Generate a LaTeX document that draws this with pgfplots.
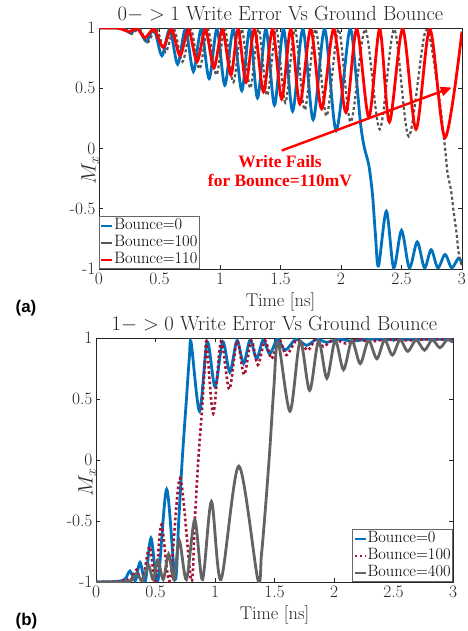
\documentclass[border=0pt]{standalone}
\usepackage{fontspec}
\usepackage{pgfplots}
\pgfplotsset{compat=1.18}
\usetikzlibrary{arrows.meta}
\newfontfamily\annfont{Liberation Serif}
\newfontfamily\labfont{Liberation Sans}
\definecolor{mblue}{RGB}{0,114,189}
\definecolor{mgray}{RGB}{85,85,85}
\definecolor{bgray}{RGB}{99,99,99}
\definecolor{mdred}{RGB}{162,20,47}
\definecolor{axc}{RGB}{38,38,38}
\pgfplotsset{
 myax/.style={
  scale only axis, xmin=0, xmax=3, ymin=-1, ymax=1,
  xtick={0,0.5,1,1.5,2,2.5,3}, xticklabels={0,0.5,1,1.5,2,2.5,3},
  ytick={-1,-0.5,0,0.5,1}, yticklabels={-1,-0.5,0,0.5,1},
  axis line style={axc, line width=0.6bp},
  tick style={axc, line width=0.6bp},
  major tick length=4bp, tick align=inside,
  tick label style={font=\fontsize{17.5}{19}\selectfont, text=axc},
  title style={at={(axis description cs:0.5,1)}, anchor=base, yshift=2bp, font=\fontsize{20.5}{22}\selectfont, text=axc, inner sep=0pt},
  xlabel style={at={(axis description cs:0.5,0)}, anchor=north, yshift=-23bp, font=\fontsize{18.5}{20}\selectfont, text=axc, inner sep=0pt},
  ylabel style={at={(axis description cs:0,0.5)}, anchor=south, xshift=-22bp, font=\fontsize{20}{22}\selectfont, text=axc, inner sep=0pt},
  xlabel={Time [ns]}, ylabel={$M_x$},
  legend cell align=left,
  legend image code/.code={\draw[#1, line width=2bp] (0bp,0bp) -- (11bp,0bp);},
  legend style={font=\fontsize{16.5}{18}\selectfont, draw=black!60, line width=0.8bp, inner xsep=1bp, inner ysep=0.5bp, row sep=0bp, nodes={inner sep=1bp, text height=11.5bp, text depth=3.5bp}},
 }
}
\begin{document}
\begin{tikzpicture}
\useasboundingbox (0,0) rectangle (468bp,-631bp);
\begin{axis}[myax, at={(99bp,-269bp)}, anchor=south west, width=363bp, height=241bp,
  title={$0->1$ Write Error Vs Ground Bounce},
  legend style={at={(axis description cs:0,0)}, anchor=south west}]
\addplot[mblue, line width=2.8bp, smooth] table {
x y
0 1
0.12 1
0.20 0.995
0.26 0.96
0.325 0.995
0.39 0.89
0.455 0.99
0.52 0.77
0.585 0.99
0.65 0.70
0.715 0.99
0.78 0.64
0.845 0.99
0.91 0.58
0.975 0.99
1.04 0.525
1.11 0.99
1.18 0.48
1.245 0.99
1.31 0.42
1.38 0.99
1.45 0.36
1.525 0.99
1.60 0.31
1.685 0.99
1.77 0.24
1.865 0.99
1.96 0.15
2.07 0.98
2.12 0.65
2.16 0.22
2.19 0.02
2.23 -0.14
2.26 -0.38
2.285 -0.72
2.31 -0.975
2.375 -0.52
2.435 -0.99
2.50 -0.68
2.565 -0.99
2.63 -0.775
2.69 -0.99
2.745 -0.84
2.80 -0.99
2.86 -0.88
2.915 -0.99
2.97 -0.91
3.0 -0.95
};
\addlegendentry{Bounce=0}
\addplot[mgray, line width=2.2bp, dash pattern=on 3bp off 2.5bp, smooth, legend image post style={solid}] table {
x y
0 1
0.13 1
0.21 0.995
0.27 0.95
0.335 0.995
0.40 0.88
0.475 0.99
0.55 0.80
0.62 0.99
0.69 0.72
0.76 0.99
0.83 0.66
0.90 0.99
0.97 0.61
1.04 0.99
1.11 0.55
1.18 0.99
1.25 0.50
1.32 0.99
1.39 0.44
1.465 0.99
1.54 0.38
1.62 0.99
1.70 0.32
1.79 0.99
1.88 0.27
1.98 0.99
2.08 0.22
2.20 0.99
2.32 0.16
2.44 0.99
2.56 0.10
2.70 0.98
2.80 0.50
2.86 0.0
2.88 -0.2
2.91 -0.35
2.93 -0.52
2.955 -0.70
2.97 -0.85
2.99 -0.95
3.0 -0.96
};
\addlegendentry{Bounce=100}
\addplot[red, line width=2.8bp, smooth] table {
x y
0 1
0.14 1
0.19 0.99
0.25 0.97
0.315 0.995
0.38 0.92
0.455 0.99
0.53 0.84
0.60 0.99
0.67 0.77
0.74 0.99
0.81 0.72
0.88 0.99
0.95 0.67
1.02 0.99
1.09 0.61
1.15 0.99
1.215 0.55
1.285 0.99
1.36 0.47
1.435 0.99
1.51 0.41
1.585 0.99
1.66 0.37
1.75 0.99
1.84 0.33
1.94 0.99
2.04 0.30
2.13 0.99
2.23 0.26
2.32 0.99
2.40 0.22
2.51 0.99
2.62 0.16
2.735 0.99
2.86 0.09
3.0 0.97
};
\addlegendentry{Bounce=110}
\draw[red, line width=2.4bp, -{Triangle[length=11bp,width=9bp]}] (axis cs:1.51,-0.017) -- (axis cs:2.915,0.506);
\node[text=red, font={\annfont\bfseries\fontsize{17.5}{19.5}\selectfont}, align=center] at (axis cs:1.496,-0.188) {Write Fails\\for Bounce=110mV};
\end{axis}
\begin{axis}[myax, at={(96bp,-582bp)}, anchor=south west, width=357bp, height=244bp,
  title={$1->0$ Write Error Vs Ground Bounce},
  legend style={at={(axis description cs:1,0)}, anchor=south east}]
\addplot[mblue, line width=2.8bp, smooth] table {
x y
0 -1
0.18 -0.995
0.245 -0.975
0.286 -0.91
0.33 -0.99
0.37 -0.84
0.415 -0.99
0.462 -0.64
0.52 -0.99
0.594 -0.24
0.665 -0.98
0.695 -0.50
0.725 0.01
0.76 0.50
0.785 0.85
0.80 0.96
0.87 0.40
0.935 0.97
1.00 0.60
1.065 0.97
1.125 0.72
1.185 0.98
1.24 0.79
1.295 0.985
1.35 0.83
1.405 0.985
1.46 0.87
1.525 0.99
1.59 0.90
1.68 0.99
1.77 0.94
1.855 0.99
1.94 0.965
2.04 0.99
2.15 0.975
2.3 0.99
2.5 0.985
2.7 0.99
3.0 0.99
};
\addlegendentry{Bounce=0}
\addplot[mdred, line width=2.6bp, dash pattern=on 2.6bp off 2.6bp, smooth] table {
x y
0 -1
0.2 -0.995
0.255 -0.975
0.29 -0.99
0.34 -0.90
0.39 -0.99
0.45 -0.71
0.50 -0.99
0.55 -0.53
0.62 -0.99
0.706 -0.15
0.80 -0.99
0.83 -0.50
0.86 0.01
0.89 0.40
0.915 0.79
0.93 0.96
0.985 0.38
1.05 0.97
1.12 0.58
1.185 0.975
1.245 0.70
1.305 0.98
1.36 0.78
1.42 0.98
1.475 0.83
1.54 0.985
1.60 0.86
1.69 0.985
1.78 0.90
1.845 0.99
1.91 0.93
2.0 0.99
2.10 0.955
2.2 0.99
2.3 0.97
2.45 0.99
2.6 0.98
2.8 0.99
3.0 0.985
};
\addlegendentry{Bounce=100}
\addplot[bgray, line width=2.8bp, smooth] table {
x y
0 -1
0.28 -0.995
0.34 -0.93
0.39 -0.99
0.44 -0.86
0.48 -0.98
0.52 -0.82
0.565 -0.98
0.61 -0.77
0.655 -0.98
0.70 -0.66
0.76 -0.98
0.83 -0.49
0.895 -0.98
0.97 -0.34
1.05 -0.98
1.20 -0.05
1.36 -0.98
1.39 -0.78
1.425 -0.38
1.46 0.08
1.495 0.60
1.53 0.97
1.63 0.40
1.715 0.975
1.795 0.57
1.87 0.975
1.94 0.67
2.01 0.98
2.08 0.74
2.15 0.98
2.22 0.79
2.29 0.98
2.36 0.83
2.425 0.985
2.49 0.86
2.555 0.985
2.62 0.89
2.69 0.985
2.76 0.90
2.825 0.985
2.89 0.92
2.95 0.985
3.0 0.965
};
\addlegendentry{Bounce=400}
\end{axis}
\node[font={\labfont\bfseries\fontsize{17}{19}\selectfont}, text=black] at (26bp,-308bp) {(a)};
\node[font={\labfont\bfseries\fontsize{17}{19}\selectfont}, text=black] at (26.5bp,-621bp) {(b)};
\end{tikzpicture}
\end{document}
